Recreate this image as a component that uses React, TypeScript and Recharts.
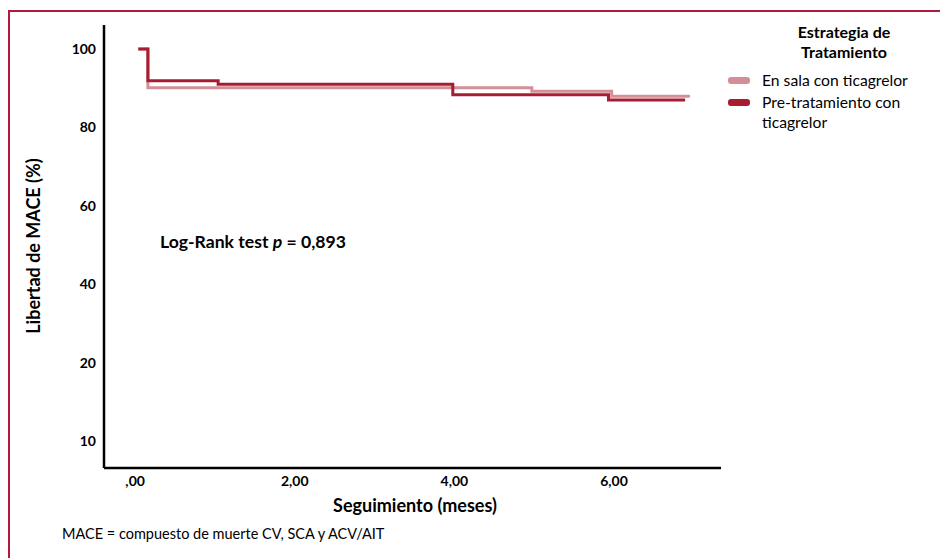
import React from 'react';
import { LineChart, Line, XAxis, YAxis, Legend } from 'recharts';

// survival curves (Kaplan-Meier), time in months vs % free of MACE
const salaName = 'En sala con ticagrelor';
const salaTimes = [0.04, 0.16, 4.97, 5.97, 6.95];
const salaValues = [100, 90.1, 89.2, 87.9, 87.9];

const preName = 'Pre-tratamiento con ticagrelor';
const preTimes = [0.04, 0.16, 1.04, 3.98, 5.93, 6.89];
const preValues = [100, 91.9, 91.0, 88.3, 87.0, 87.0];

const xTicks = [0, 2, 4, 6];
const xTickLabels = [',00', '2,00', '4,00', '6,00'];
const yTicks = [100, 80, 60, 40, 20, 0];
const yTickLabels = ['100', '80', '60', '40', '20', '10'];

const salaData = salaTimes.map((t, i) => ({ t, v: salaValues[i] }));
const preData = preTimes.map((t, i) => ({ t, v: preValues[i] }));

const FONT = 'Lato, "Open Sans", sans-serif';
const PINK = '#d58e98';
const DARK = '#a81b30';
const FRAME = '#b5173e';

const renderLegend = (props: any) => {
  const { payload } = props;
  return (
    <div style={{ fontFamily: FONT, color: '#000' }}>
      <div style={{ fontWeight: 700, fontSize: 16, textAlign: 'center', lineHeight: '20px', marginLeft: 46, width: 140 }}>
        Estrategia de<br />Tratamiento
      </div>
      <div style={{ marginTop: 8 }}>
        {payload.map((p: any) => (
          <div key={p.value} style={{ display: 'flex', alignItems: 'flex-start', marginBottom: 2 }}>
            <span style={{ display: 'inline-block', width: 22, height: 7, borderRadius: 3, background: p.color, marginTop: 7, marginRight: 12 }} />
            <span style={{ fontSize: 15.7, lineHeight: '20px', width: 160 }}>{p.value}</span>
          </div>
        ))}
      </div>
    </div>
  );
};

export default function App() {
  return (
    <div style={{ position: 'fixed', left: 0, top: 0, width: 940, height: 558, background: '#fff', overflow: 'hidden' }}>
      <div style={{ position: 'absolute', left: 8, top: 10, width: 940, height: 560, borderTop: `2px solid ${FRAME}`, borderLeft: `2px solid ${FRAME}` }} />
      <div style={{ position: 'absolute', left: 0, top: 0 }}>
        <LineChart width={940} height={558} margin={{ top: 25, right: 219, left: 44, bottom: 60 }}>
          <XAxis
            type="number"
            dataKey="t"
            domain={[-0.39, 7.34]}
            ticks={xTicks}
            allowDataOverflow
            height={30}
            tickLine={false}
            axisLine={{ stroke: '#000', strokeWidth: 2.5 }}
            tickFormatter={(v: number) => xTickLabels[xTicks.indexOf(v)]}
            tick={{ fill: '#000', fontSize: 14, fontWeight: 700, fontFamily: FONT }}
          />
          <YAxis
            type="number"
            dataKey="v"
            domain={[-6.9, 106.1]}
            ticks={yTicks}
            allowDataOverflow
            width={60}
            tickLine={false}
            axisLine={{ stroke: '#000', strokeWidth: 2.5 }}
            tickFormatter={(v: number) => yTickLabels[yTicks.indexOf(v)]}
            tick={{ fill: '#000', fontSize: 14, fontWeight: 700, fontFamily: FONT }}
          />
          <Legend
            layout="vertical"
            align="center"
            verticalAlign="middle"
            wrapperStyle={{ left: 728, top: 22, width: 210 }}
            content={renderLegend}
          />
          <Line data={salaData} dataKey="v" name={salaName} type="stepAfter" stroke={PINK} strokeWidth={3} dot={false} activeDot={false} isAnimationActive={false} />
          <Line data={preData} dataKey="v" name={preName} type="stepAfter" stroke={DARK} strokeWidth={3} dot={false} activeDot={false} isAnimationActive={false} />
        </LineChart>
      </div>
      <div style={{ position: 'absolute', left: 160, top: 231, fontFamily: FONT, fontWeight: 700, fontSize: 17.6, color: '#000', whiteSpace: 'nowrap' }}>
        Log-Rank test <i>p</i> = 0,893
      </div>
      <div style={{ position: 'absolute', left: 33, top: 246, transform: 'translate(-50%, -50%) rotate(-90deg)', fontFamily: FONT, fontWeight: 700, fontSize: 18, color: '#000', whiteSpace: 'nowrap' }}>
        Libertad de MACE (%)
      </div>
      <div style={{ position: 'absolute', left: 415, top: 505, transform: 'translate(-50%, -50%)', fontFamily: FONT, fontWeight: 700, fontSize: 18, color: '#000', whiteSpace: 'nowrap' }}>
        Seguimiento (meses)
      </div>
      <div style={{ position: 'absolute', left: 62, top: 525, fontFamily: FONT, fontSize: 14.5, color: '#000', whiteSpace: 'nowrap' }}>
        MACE = compuesto de muerte CV, SCA y ACV/AIT
      </div>
    </div>
  );
}
